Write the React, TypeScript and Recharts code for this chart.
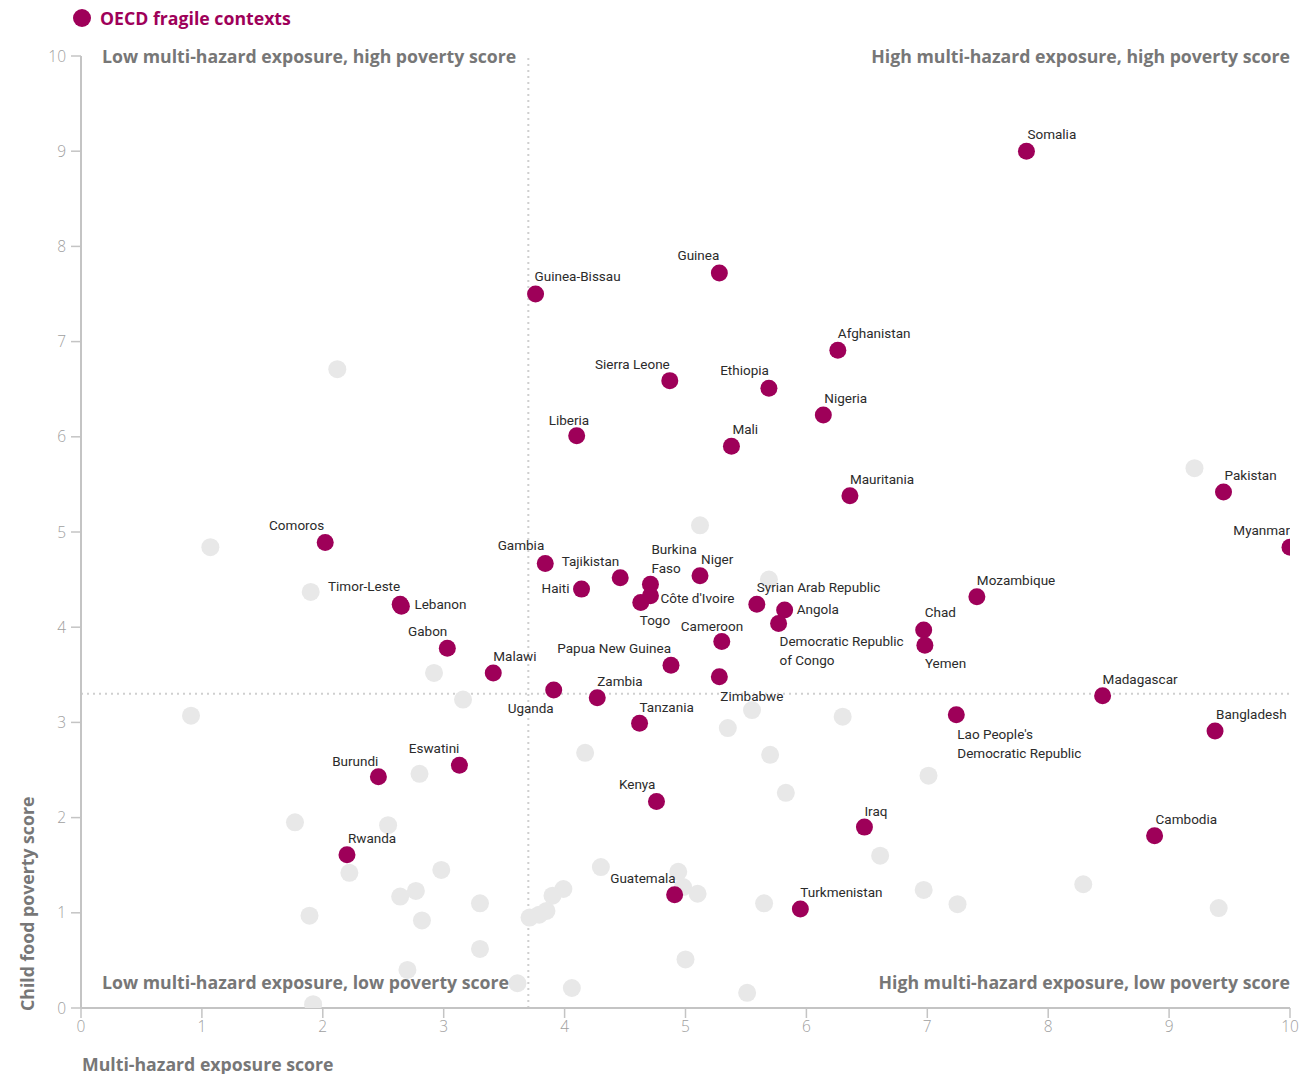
import React from "react";
import { ScatterChart, Scatter, XAxis, YAxis, ReferenceLine } from "recharts";

// OECD fragile contexts (highlighted)
const fragileNames = [
  "Somalia", "Guinea", "Guinea-Bissau", "Afghanistan", "Sierra Leone", "Ethiopia", "Nigeria", "Liberia",
  "Mali", "Mauritania", "Pakistan", "Myanmar", "Comoros", "Gambia", "Tajikistan", "Haiti", "Burkina Faso",
  "Niger", "Côte d'Ivoire", "Togo", "Syrian Arab Republic", "Angola", "Democratic Republic of Congo",
  "Mozambique", "Timor-Leste", "Lebanon", "Chad", "Yemen", "Cameroon", "Papua New Guinea", "Zimbabwe",
  "Gabon", "Malawi", "Uganda", "Zambia", "Tanzania", "Madagascar", "Lao People's Democratic Republic",
  "Bangladesh", "Eswatini", "Burundi", "Kenya", "Iraq", "Cambodia", "Rwanda", "Guatemala", "Turkmenistan",
];
const fragileHazard = [
  7.82, 5.28, 3.76, 6.26, 4.87, 5.69, 6.14, 4.1,
  5.38, 6.36, 9.45, 10.0, 2.02, 3.84, 4.46, 4.14, 4.71,
  5.12, 4.71, 4.63, 5.59, 5.82, 5.77,
  7.41, 2.64, 2.65, 6.97, 6.98, 5.3, 4.88, 5.28,
  3.03, 3.41, 3.91, 4.27, 4.62, 8.45, 7.24,
  9.38, 3.13, 2.46, 4.76, 6.48, 8.88, 2.2, 4.91, 5.95,
];
const fragilePoverty = [
  9.0, 7.72, 7.5, 6.91, 6.59, 6.51, 6.23, 6.01,
  5.9, 5.38, 5.42, 4.84, 4.89, 4.67, 4.52, 4.4, 4.45,
  4.54, 4.33, 4.26, 4.24, 4.18, 4.04,
  4.32, 4.24, 4.22, 3.97, 3.81, 3.85, 3.6, 3.48,
  3.78, 3.52, 3.34, 3.26, 2.99, 3.28, 3.08,
  2.91, 2.55, 2.43, 2.17, 1.9, 1.81, 1.61, 1.19, 1.04,
];

// other countries (grey)
const otherHazard = [
  2.12, 1.07, 5.12, 9.21, 1.9, 5.69, 2.92, 3.16, 0.91, 5.55, 5.35, 6.3, 4.17, 5.7, 2.8, 7.01,
  5.83, 1.77, 2.54, 2.22, 2.98, 4.3, 4.94, 4.98, 6.61, 2.77, 2.64, 3.99, 3.9, 3.3, 5.1, 5.65,
  6.97, 7.25, 8.29, 9.41, 1.89, 2.82, 3.85, 3.79, 3.71, 3.3, 5.0, 2.7, 3.61, 4.06, 1.92, 5.51,
];
const otherPoverty = [
  6.71, 4.84, 5.07, 5.67, 4.37, 4.5, 3.52, 3.24, 3.07, 3.13, 2.94, 3.06, 2.68, 2.66, 2.46, 2.44,
  2.26, 1.95, 1.92, 1.42, 1.45, 1.48, 1.43, 1.27, 1.6, 1.23, 1.17, 1.25, 1.18, 1.1, 1.2, 1.1,
  1.24, 1.09, 1.3, 1.05, 0.97, 0.92, 1.02, 0.98, 0.95, 0.62, 0.51, 0.4, 0.26, 0.21, 0.04, 0.16,
];

const xTicks = [0, 1, 2, 3, 4, 5, 6, 7, 8, 9, 10];
const yTicks = [0, 1, 2, 3, 4, 5, 6, 7, 8, 9, 10];
const hazardSplit = 3.7;
const povertySplit = 3.3;

const MAGENTA = "#9e0059";
const GREY_DOT = "#e8e8e8";
const QUAD = "#777777";

// label placement relative to the dot: [dx, dy, anchor]
const labelPos: Record<string, [number, number, "start" | "end" | "middle"]> = {
  Somalia: [1, -16, "start"],
  Guinea: [0, -17, "end"],
  "Guinea-Bissau": [-1, -17, "start"],
  Afghanistan: [0, -16, "start"],
  "Sierra Leone": [0, -16, "end"],
  Ethiopia: [0, -17, "end"],
  Nigeria: [1, -16, "start"],
  Liberia: [-28, -15, "start"],
  Mali: [1, -16, "start"],
  Mauritania: [0, -16, "start"],
  Pakistan: [1, -16, "start"],
  Myanmar: [0, -16, "end"],
  Comoros: [-1, -16, "end"],
  Gambia: [-1, -17, "end"],
  Tajikistan: [-1, -16, "end"],
  Haiti: [-12, 0, "end"],
  "Burkina Faso": [1, -34, "start"],
  Niger: [1, -16, "start"],
  "Côte d'Ivoire": [10, 3, "start"],
  Togo: [-1, 19, "start"],
  "Syrian Arab Republic": [0, -16, "start"],
  Angola: [12, 0, "start"],
  "Democratic Republic of Congo": [1, 19, "start"],
  Mozambique: [0, -16, "start"],
  "Timor-Leste": [0, -17, "end"],
  Lebanon: [13, -1, "start"],
  Chad: [1, -17, "start"],
  Yemen: [0, 19, "start"],
  Cameroon: [-41, -14, "start"],
  "Papua New Guinea": [0, -16, "end"],
  Zimbabwe: [1, 20, "start"],
  Gabon: [0, -16, "end"],
  Malawi: [0, -16, "start"],
  Uganda: [0, 19, "end"],
  Zambia: [0, -16, "start"],
  Tanzania: [0, -15, "start"],
  Madagascar: [0, -16, "start"],
  "Lao People's Democratic Republic": [1, 20, "start"],
  Bangladesh: [1, -16, "start"],
  Eswatini: [0, -16, "end"],
  Burundi: [0, -15, "end"],
  Kenya: [-1, -16, "end"],
  Iraq: [0, -15, "start"],
  Cambodia: [1, -16, "start"],
  Rwanda: [1, -16, "start"],
  Guatemala: [1, -16, "end"],
  Turkmenistan: [0, -16, "start"],
};

const wrapped: Record<string, string[]> = {
  "Burkina Faso": ["Burkina", "Faso"],
  "Democratic Republic of Congo": ["Democratic Republic", "of Congo"],
  "Lao People's Democratic Republic": ["Lao People's", "Democratic Republic"],
};

const fragileData = fragileNames.map((name, i) => ({ name, x: fragileHazard[i], y: fragilePoverty[i] }));
const otherData = otherHazard.map((x, i) => ({ x, y: otherPoverty[i] }));

const Dot = ({ cx, cy, fill, r }: { cx?: number; cy?: number; fill: string; r: number }) =>
  cx == null || cy == null ? null : <circle cx={cx} cy={cy} r={r} fill={fill} />;

const CountryLabel = (props: any) => {
  const { cx, cy, payload } = props;
  if (cx == null || cy == null) return null;
  const name = payload.name as string;
  const [dx, dy, anchor] = labelPos[name] || [0, -16, "start"];
  const lines = wrapped[name] || [name];
  return (
    <text
      x={cx + dx}
      y={cy + dy}
      textAnchor={anchor}
      dominantBaseline="middle"
      fontFamily="Roboto, sans-serif"
      fontSize={13.5}
      fill="#2b2b2b"
    >
      {lines.map((l, i) => (
        <tspan key={i} x={cx + dx} dy={i === 0 ? 0 : 19}>
          {l}
        </tspan>
      ))}
    </text>
  );
};

const quadStyle: React.CSSProperties = {
  position: "absolute",
  fontFamily: "'Open Sans', sans-serif",
  fontWeight: 700,
  fontSize: 17.7,
  color: QUAD,
  whiteSpace: "nowrap",
  lineHeight: "22px",
};

export default function App() {
  const tickStyle = { fill: "#a0a0a0", fontSize: 15.5, fontFamily: "'Open Sans', sans-serif", fontWeight: 300 };
  return (
    <div style={{ position: "absolute", left: 0, top: 0, width: 1315, height: 1074, background: "#fff" }}>
      <div style={{ position: "absolute", left: 73, top: 6, display: "flex", alignItems: "center", gap: 9 }}>
        <span style={{ width: 18, height: 18, borderRadius: 9, background: MAGENTA, display: "inline-block" }} />
        <span style={{ fontFamily: "'Open Sans', sans-serif", fontWeight: 700, fontSize: 17.7, color: MAGENTA }}>
          OECD fragile contexts
        </span>
      </div>

      <ScatterChart width={1315} height={1074} margin={{ top: 56, right: 25, left: 0, bottom: 36 }}>
        <XAxis
          type="number"
          dataKey="x"
          domain={[0, 10]}
          ticks={xTicks}
          allowDataOverflow
          height={30}
          tick={tickStyle}
          tickSize={10}
          tickMargin={3}
          axisLine={{ stroke: "#c4c4c4", strokeWidth: 2 }}
          tickLine={{ stroke: "#c4c4c4", strokeWidth: 1.5 }}
        />
        <YAxis
          type="number"
          dataKey="y"
          domain={[0, 10]}
          ticks={yTicks}
          allowDataOverflow
          width={81}
          tick={tickStyle}
          tickSize={10}
          tickMargin={5}
          axisLine={{ stroke: "#c4c4c4", strokeWidth: 2 }}
          tickLine={{ stroke: "#c4c4c4", strokeWidth: 1.5 }}
        />
        <ReferenceLine x={hazardSplit} stroke="#cfcfcf" strokeWidth={2} strokeDasharray="2 4" />
        <ReferenceLine y={povertySplit} stroke="#cfcfcf" strokeWidth={2} strokeDasharray="2 4" />
        <Scatter
          data={otherData}
          isAnimationActive={false}
          shape={(p: any) => <Dot cx={p.cx} cy={p.cy} r={9} fill={GREY_DOT} />}
        />
        <Scatter
          data={fragileData}
          isAnimationActive={false}
          shape={(p: any) => <Dot cx={p.cx} cy={p.cy} r={8.5} fill={MAGENTA} />}
        />
        <Scatter data={fragileData} isAnimationActive={false} shape={(p: any) => <CountryLabel {...p} />} />
      </ScatterChart>

      <div style={{ ...quadStyle, left: 102, top: 45 }}>Low multi-hazard exposure, high poverty score</div>
      <div style={{ ...quadStyle, right: 25, top: 45 }}>High multi-hazard exposure, high poverty score</div>
      <div style={{ ...quadStyle, left: 102, top: 971 }}>Low multi-hazard exposure, low poverty score</div>
      <div style={{ ...quadStyle, right: 25, top: 971 }}>High multi-hazard exposure, low poverty score</div>

      <div style={{ ...quadStyle, left: 82, top: 1053 }}>Multi-hazard exposure score</div>
      <div
        style={{
          ...quadStyle,
          left: 16,
          top: 1011,
          transformOrigin: "0 0",
          transform: "rotate(-90deg)",
        }}
      >
        Child food poverty score
      </div>
    </div>
  );
}
